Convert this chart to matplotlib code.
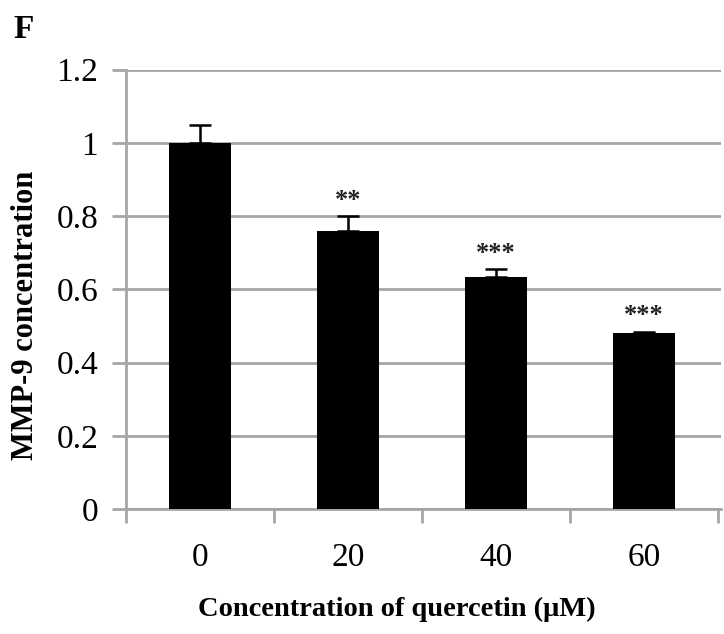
import matplotlib.pyplot as plt
import numpy as np

# data
doses = ["0", "20", "40", "60"]
mmp9 = [1.0, 0.76, 0.635, 0.48]
err = [0.05, 0.04, 0.02, 0.004]
stars = ["", "**", "***", "***"]
yticks = [0, 0.2, 0.4, 0.6, 0.8, 1.0, 1.2]
ytick_labels = ["0", "0.2", "0.4", "0.6", "0.8", "1", "1.2"]

plt.rcParams['font.family'] = ['Liberation Serif', 'DejaVu Serif']
grid_col = '#a6a6a6'

fig = plt.figure(figsize=(7.24, 6.34), dpi=100)
ax = fig.add_axes([0.174, 0.197, 0.822, 0.693])

x = np.arange(len(doses))
ax.bar(x, mmp9, width=0.42, color='black', zorder=3)
ax.errorbar(x, mmp9, yerr=[np.zeros(len(err)), err], fmt='none',
            ecolor='black', elinewidth=1.8, capsize=8, capthick=1.8, zorder=4)

for xi, v, e, s in zip(x, mmp9, err, stars):
    if s:
        ax.text(xi, v + e + 0.012, s, ha='center', va='bottom',
                fontsize=19, fontweight='bold', color='#222222')

ax.set_xlim(-0.5, 3.52)
ax.set_ylim(0, 1.2)
ax.set_yticks(yticks)
ax.set_yticklabels(ytick_labels, fontsize=24)
ax.yaxis.grid(True, color=grid_col, linewidth=2, zorder=0)
ax.set_axisbelow(True)

ax.set_xticks(x)
ax.set_xticklabels(doses, fontsize=24)
ax.set_xticks(np.arange(-0.5, 4, 1), minor=True)
ax.tick_params(axis='x', which='major', length=0, pad=24)
ax.tick_params(axis='x', which='minor', length=10, width=2, color=grid_col, direction='out')
ax.tick_params(axis='y', length=10, width=2, color=grid_col, pad=10)

for side in ['top', 'right']:
    ax.spines[side].set_visible(False)
for side in ['left', 'bottom']:
    ax.spines[side].set_color(grid_col)
    ax.spines[side].set_linewidth(2)

ax.set_ylabel('MMP-9 concentration', fontsize=22, fontweight='bold')
ax.set_xlabel('Concentration of quercetin (\u03bcM)', fontsize=20.5, fontweight='bold')
ax.yaxis.set_label_coords(-0.145, 0.44)
ax.xaxis.set_label_coords(0.455, -0.20)

fig.text(0.018, 0.94, 'F', fontsize=24, fontweight='bold')

fig.savefig('out.png', dpi=100)
